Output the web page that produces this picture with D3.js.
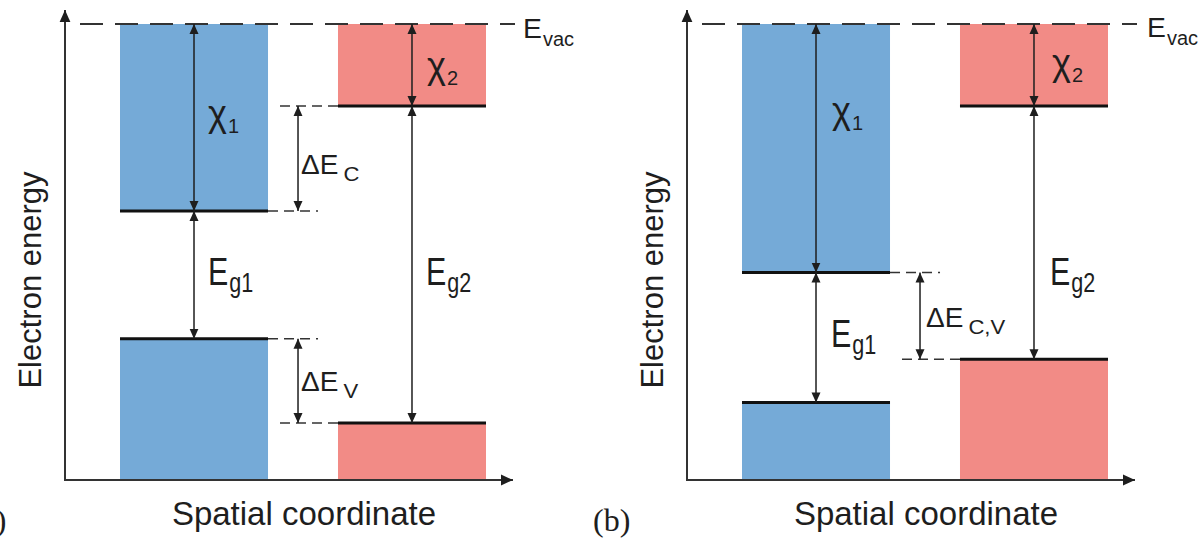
<!DOCTYPE html>
<html lang="en">
<head>
<meta charset="utf-8">
<title>Band alignment</title>
<script src="https://d3js.org/d3.v7.min.js"></script>
<style>
body { margin: 0; background: #fff; }
svg { display: block; font-family: "Liberation Sans", Arial, sans-serif; }
</style>
</head>
<body>
<script>

// energies below the vacuum level (arbitrary units)
var materials = ["m1", "m2"];
var chiA = [4.1, 1.8];     // electron affinities, panel (a)
var gapA = [2.8, 6.95];    // band gaps, panel (a)
var chiB = [5.45, 1.8];    // electron affinities, panel (b)
var gapB = [2.85, 5.55];   // band gaps, panel (b)
var bandColors = ["#75aad7", "#f28b86"];
var panelTags = ["(a)", "(b)"];

var W = 1204, H = 540;
var ink = "#1e1e1e";

var svg = d3.select("body").append("svg")
    .attr("width", W)
    .attr("height", H);

var defs = svg.append("defs");
function addMarker(id, size) {
  defs.append("marker")
    .attr("id", id)
    .attr("viewBox", "0 0 10 10")
    .attr("refX", 10).attr("refY", 5)
    .attr("markerWidth", size).attr("markerHeight", size)
    .attr("markerUnits", "userSpaceOnUse")
    .attr("orient", "auto-start-reverse")
    .append("path")
    .attr("d", "M0,0.5 L10,5 L0,9.5 Z")
    .attr("fill", ink);
}
addMarker("tip", 10);
addMarker("axtip", 12);

var yScale = d3.scaleLinear().domain([-10, 0]).range([480, 24]);
var xScale = d3.scaleBand().domain(materials)
    .range([55, 421])
    .paddingInner(0.321)
    .paddingOuter(0);

// text with a subscript, main part can be stretched horizontally
function label(g, x, y, main, sub, o) {
  var t = g.append("text")
    .attr("transform", "translate(" + x + "," + y + ") scale(" + o.sx + ",1)")
    .attr("font-size", o.size)
    .attr("fill", ink)
    .text(main);
  var w = t.node().getComputedTextLength() * o.sx;
  g.append("text")
    .attr("transform", "translate(" + (x + w + (o.dx || 0)) + "," + (y + o.subDy) + ") scale(" + (o.subSx || 1) + ",1)")
    .attr("font-size", o.subSize)
    .attr("fill", ink)
    .text(sub);
}

var chiStyle = {size: 36, sx: 1, subSize: 20, subDy: 7, dx: 1};
var egStyle = {size: 39, sx: 0.78, subSize: 27, subDy: 7, subSx: 0.8, dx: 1};
var dStyle = {size: 28, sx: 1.0, subSize: 21, subDy: 7, subSx: 1.05, dx: 5};
var vacStyle = {size: 27, sx: 1.05, subSize: 20, subDy: 8, dx: 1};

function drawPanel(px, chi, gap, tag, offsets, labels) {
  var g = svg.append("g").attr("transform", "translate(" + px + ",0)");
  var cb = chi.map(function(c) { return -c; });
  var vb = chi.map(function(c, i) { return -(c + gap[i]); });
  var bw = xScale.bandwidth();
  var yTop = yScale(0), yBot = yScale(-10);

  // bands
  materials.forEach(function(m, i) {
    g.append("rect")
      .attr("x", xScale(m)).attr("width", bw)
      .attr("y", yTop).attr("height", yScale(cb[i]) - yTop)
      .attr("fill", bandColors[i]);
    g.append("rect")
      .attr("x", xScale(m)).attr("width", bw)
      .attr("y", yScale(vb[i])).attr("height", yBot - yScale(vb[i]))
      .attr("fill", bandColors[i]);
  });

  // vacuum level
  g.append("line")
    .attr("x1", 15).attr("x2", 450)
    .attr("y1", yTop).attr("y2", yTop)
    .attr("stroke", "#333").attr("stroke-width", 2)
    .attr("stroke-dasharray", "23,12");

  // band edges
  materials.forEach(function(m, i) {
    [cb[i], vb[i]].forEach(function(e) {
      g.append("line")
        .attr("x1", xScale(m)).attr("x2", xScale(m) + bw)
        .attr("y1", yScale(e)).attr("y2", yScale(e))
        .attr("stroke", "#111").attr("stroke-width", 3);
    });
  });

  // axes
  g.append("line")
    .attr("x1", 0).attr("x2", 0)
    .attr("y1", yBot).attr("y2", yTop - 14)
    .attr("stroke", "#333").attr("stroke-width", 2)
    .attr("marker-end", "url(#axtip)");
  g.append("line")
    .attr("x1", -1).attr("x2", 448)
    .attr("y1", yBot).attr("y2", yBot)
    .attr("stroke", "#333").attr("stroke-width", 2)
    .attr("marker-end", "url(#axtip)");

  function arrow(x, e1, e2) {
    g.append("line")
      .attr("x1", x).attr("x2", x)
      .attr("y1", yScale(e1)).attr("y2", yScale(e2))
      .attr("stroke", ink).attr("stroke-width", 1.5)
      .attr("marker-start", "url(#tip)")
      .attr("marker-end", "url(#tip)");
  }

  // chi and gap arrows
  materials.forEach(function(m, i) {
    var cx = xScale(m) + bw / 2;
    arrow(cx, 0, cb[i]);
    arrow(cx, cb[i], vb[i]);
  });

  // band offsets
  var left = xScale(materials[0]) + bw, right = xScale(materials[1]);
  var ox = left + 30;
  offsets.forEach(function(pair) {
    g.append("line")
      .attr("x1", left).attr("x2", left + 50)
      .attr("y1", yScale(pair[0])).attr("y2", yScale(pair[0]))
      .attr("stroke", "#333").attr("stroke-width", 1.5)
      .attr("stroke-dasharray", "10,6");
    g.append("line")
      .attr("x1", right).attr("x2", right - 58)
      .attr("y1", yScale(pair[1])).attr("y2", yScale(pair[1]))
      .attr("stroke", "#333").attr("stroke-width", 1.5)
      .attr("stroke-dasharray", "10,6");
    arrow(ox, pair[0], pair[1]);
  });

  labels.forEach(function(l) { label(g, l[0], l[1], l[2], l[3], l[4]); });

  // axis titles
  g.append("text")
    .attr("transform", "translate(-24,280) rotate(-90)")
    .attr("text-anchor", "middle")
    .attr("font-size", 31)
    .attr("fill", ink)
    .text("Electron energy");
  g.append("text")
    .attr("x", 239).attr("y", 525)
    .attr("text-anchor", "middle")
    .attr("font-size", 33)
    .attr("fill", ink)
    .text("Spatial coordinate");
  g.append("text")
    .attr("x", -94).attr("y", 531)
    .attr("font-family", "'Liberation Serif', 'Times New Roman', serif")
    .attr("font-size", 32)
    .attr("fill", ink)
    .text(tag);
}

// panel (a): straddling alignment
var cbA = chiA.map(function(c) { return -c; });
var vbA = chiA.map(function(c, i) { return -(c + gapA[i]); });
drawPanel(65, chiA, gapA, panelTags[0],
  [[cbA[0], cbA[1]], [vbA[0], vbA[1]]],
  [
    [143, 126, "\u03c7", "1", chiStyle],
    [362, 78, "\u03c7", "2", chiStyle],
    [143, 285, "E", "g1", egStyle],
    [361, 285, "E", "g2", egStyle],
    [236, 174, "\u0394E", "C", dStyle],
    [236, 391, "\u0394E", "V", dStyle],
    [458, 38, "E", "vac", vacStyle]
  ]);

// panel (b): broken gap offset
var cbB = chiB.map(function(c) { return -c; });
var vbB = chiB.map(function(c, i) { return -(c + gapB[i]); });
drawPanel(687, chiB, gapB, panelTags[1],
  [[cbB[0], vbB[1]]],
  [
    [145, 123, "\u03c7", "1", chiStyle],
    [365, 75, "\u03c7", "2", chiStyle],
    [144, 347, "E", "g1", egStyle],
    [363, 285, "E", "g2", egStyle],
    [239, 327, "\u0394E", "C,V", dStyle],
    [460, 37, "E", "vac", vacStyle]
  ]);

</script>
</body>
</html>
